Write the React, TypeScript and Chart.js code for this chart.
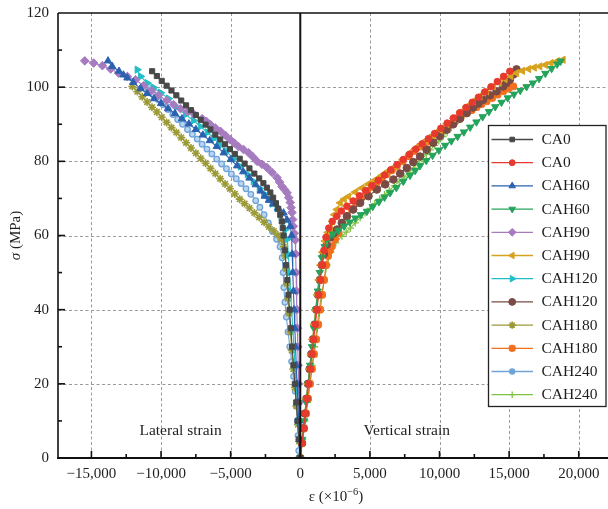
import React, { useEffect, useRef } from 'react';
import { Chart, registerables } from 'chart.js';
import { drawPoint } from 'chart.js/helpers';

Chart.register(...registerables);

// ---------- axis ranges and ticks ----------
const X_MIN = -17400;
const X_MAX = 22100;
const Y_MIN = 0;
const Y_MAX = 120;
const xMajorTicks = [-15000, -10000, -5000, 0, 5000, 10000, 15000, 20000];
const xMinorTicks = [-12500, -7500, -2500, 2500, 7500, 12500, 17500];
const yMajorTicks = [0, 20, 40, 60, 80, 100, 120];
const yMinorTicks = [10, 30, 50, 70, 90, 110];

const seriesNames = ['CA0', 'CA0', 'CAH60', 'CAH60', 'CAH90', 'CAH90', 'CAH120', 'CAH120', 'CAH180', 'CAH180', 'CAH240', 'CAH240'];

// ---------- data: [strain (x10^-6), stress (MPa)] ----------
const ca0Lateral: [number, number][] = [[-10640,104.3],[-10300,103.0],[-9950,101.7],[-9600,100.4],[-9250,99.1],[-8900,97.8],[-8550,96.4],[-8200,95.1],[-7850,93.8],[-7500,92.5],[-7150,91.2],[-6800,89.9],[-6450,88.6],[-6100,87.2],[-5750,85.9],[-5400,84.6],[-5050,83.3],[-4700,82.0],[-4350,80.7],[-4000,79.4],[-3650,78.1],[-3300,76.7],[-2950,75.4],[-2650,74.1],[-2400,72.9],[-2150,71.6],[-1950,70.2],[-1750,68.7],[-1580,67.2],[-1440,65.6],[-1330,63.8],[-1260,62.0],[-1200,60.0],[-1110,56],[-1020,52],[-930,48],[-850,44],[-770,40],[-680,35],[-590,30],[-490,25],[-390,20],[-290,15],[-190,10],[-100,5],[0,0]];

const ca0Vertical: [number, number][] = [[0,0],[120,4],[240,8],[360,12],[480,16],[600,20],[720,24],[840,28],[960,32],[1080,36],[1200,40],[1320,44],[1440,48],[1560,52],[1700,56],[1850,59.5],[2050,62],[2300,63.8],[2630,65.2],[2950,66.6],[3350,67.9],[3800,69.3],[4250,70.7],[4700,72.1],[5150,73.5],[5600,74.9],[6050,76.3],[6500,77.7],[6950,79.1],[7400,80.5],[7850,81.9],[8300,83.3],[8750,84.7],[9200,86.1],[9650,87.5],[10100,88.9],[10550,90.3],[11000,91.7],[11450,93.1],[11900,94.5],[12350,95.9],[12800,97.3],[13250,98.7],[13700,100.1],[14150,101.5],[14600,102.9],[15050,104.3]];

const cah60Lateral: [number, number][] = [[-13810,107.1],[-13500,105.6],[-13020,104.3],[-12700,103.3],[-12420,102.5],[-12000,101.3],[-11470,99.6],[-11000,98.3],[-10500,96.9],[-10000,95.6],[-9500,94.2],[-9000,92.9],[-8500,91.5],[-8000,90.1],[-7500,88.6],[-7000,87.1],[-6500,85.6],[-6000,84.0],[-5500,82.3],[-5000,80.5],[-4540,78.8],[-4100,77.2],[-3650,75.5],[-3200,73.7],[-2850,72.0],[-2550,70.6],[-2250,69.5],[-1950,68.5],[-1600,67.4],[-1200,66.1],[-950,64.2],[-720,62.5],[-620,60],[-580,55],[-540,50],[-490,45],[-440,40],[-390,35],[-340,30],[-290,25],[-230,20],[-170,15],[-110,10],[-60,5],[0,0]];

const cah60Vertical: [number, number][] = [[0,0],[140,5],[280,10],[420,15],[560,20],[700,25],[840,30],[980,35],[1120,40],[1260,45],[1400,50],[1550,54],[1750,57],[2000,59.3],[2350,60.4],[2750,61.4],[3150,62.5],[3550,63.6],[3950,64.7],[4350,65.6],[4780,66.5],[5200,67.8],[5650,69.1],[6050,70.3],[6450,71.5],[6900,72.9],[7400,74.6],[7880,76.2],[8250,77.5],[8600,78.8],[9050,80.2],[9500,81.6],[9950,83.0],[10400,84.3],[10850,85.5],[11300,86.7],[11750,87.9],[12200,89.2],[12650,90.6],[13100,92.0],[13550,93.4],[14000,94.7],[14450,95.9],[14900,97.1],[15350,98.1],[15800,99.1],[16250,100.1],[16700,101.1],[17150,102.3],[17600,103.7],[18050,105.0],[18450,106.2],[18700,107.0]];

const cah90Lateral: [number, number][] = [[-15480,107.1],[-14840,106.5],[-14210,105.8],[-13620,104.9],[-13050,103.8],[-12420,102.9],[-11830,102],[-11250,100.4],[-10680,99.1],[-10180,97.8],[-9600,96.4],[-9100,95.3],[-8600,94.2],[-8100,93.4],[-7600,92.6],[-7050,91.5],[-6750,90.8],[-6450,89.9],[-6100,89.0],[-5730,88.1],[-5380,87.0],[-5020,85.8],[-4730,84.9],[-4440,84],[-4080,83.2],[-3710,82.3],[-3400,81.2],[-3100,80],[-2750,79.2],[-2390,78.3],[-2030,77.0],[-1670,75.6],[-1490,74.4],[-1310,73.2],[-1130,72.4],[-950,71.5],[-830,70.2],[-720,68.9],[-660,67.5],[-600,66.2],[-550,64.3],[-500,62.5],[-430,60.6],[-360,58.8],[-330,55],[-300,50],[-270,45],[-240,40],[-210,35],[-180,30],[-150,25],[-120,20],[-90,15],[-60,10],[-30,5],[0,0]];

const cah90Vertical: [number, number][] = [[0,0],[110,4],[220,8],[330,12],[440,16],[550,20],[660,24],[770,28],[880,32],[990,36],[1100,40],[1210,44],[1330,48],[1460,52],[1600,55.5],[1780,58.5],[1980,60.8],[2150,62],[2300,63.8],[2450,65.6],[2630,67],[2870,68.8],[3150,69.8],[3460,70.5],[3950,71.7],[4420,72.8],[4900,73.9],[5380,75],[5850,76.2],[6330,77.4],[6810,78.6],[7350,80.4],[7880,82.3],[8450,83.9],[9000,85.5],[9520,87],[10040,88.5],[10520,90.1],[11000,91.6],[11480,93.2],[11950,94.8],[12420,96.2],[12900,97.5],[13380,98.9],[13860,100.2],[14280,101.2],[14700,102.2],[15120,103.0],[15530,103.8],[15950,104.4],[16400,104.9],[16800,105.3],[17200,105.6],[17600,106.0],[18000,106.5],[18450,107.0],[18870,107.4]];

const cah120Lateral: [number, number][] = [[-11710,104.7],[-11470,102.9],[-10990,101.1],[-10540,99.9],[-10030,98.5],[-9460,96.9],[-8890,94.6],[-8240,92.6],[-7670,91.0],[-7170,89.4],[-6670,87.8],[-6210,86.2],[-5730,84.4],[-5300,82.7],[-4800,80.7],[-4300,78.6],[-3800,76.5],[-3370,74.6],[-2940,72.7],[-2630,71.3],[-2290,69.9],[-2010,68.6],[-1670,67.3],[-1430,65.6],[-1220,63.7],[-1075,61.6],[-930,59],[-860,55],[-780,50],[-700,45],[-620,40],[-540,35],[-460,30],[-380,25],[-300,20],[-220,15],[-150,10],[-70,5],[0,0]];

const cah120Vertical: [number, number][] = [[0,0],[110,4],[220,8],[330,12],[440,16],[550,20],[670,24],[790,28],[910,32],[1030,36],[1150,40],[1270,44],[1400,48],[1540,52],[1700,55],[1900,57.5],[2150,59.5],[2400,60.6],[2630,61.6],[2980,63.4],[3350,65.2],[3800,67],[4300,68.8],[4900,70.6],[5500,72.4],[6100,73.8],[6690,75.1],[7170,76.7],[7650,78.2],[8120,79.8],[8600,81.3],[9070,83.1],[9550,85],[10030,86.8],[10510,88.5],[10990,90],[11470,91.5],[11950,93],[12400,94.5],[12800,95.6],[13140,96.6],[13620,97.8],[14100,98.9],[14570,100.2],[14800,101.1],[15050,102],[15300,103.4],[15530,104.8]];

const cah180Lateral: [number, number][] = [[-12060,100.2],[-11700,98.8],[-11350,97.4],[-11000,96.0],[-10650,94.6],[-10300,93.3],[-9950,91.9],[-9600,90.5],[-9250,89.1],[-8900,87.8],[-8550,86.4],[-8200,85.0],[-7850,83.6],[-7500,82.2],[-7150,80.8],[-6800,79.5],[-6450,78.1],[-6100,76.7],[-5750,75.3],[-5400,73.9],[-5050,72.6],[-4700,71.2],[-4350,69.8],[-4000,68.6],[-3650,67.4],[-3300,66.1],[-2950,64.9],[-2600,63.6],[-2250,62.3],[-1900,61.2],[-1600,60.1],[-1350,58.8],[-1180,57],[-1080,54.5],[-1010,51],[-950,47],[-880,43],[-800,39],[-710,34],[-610,29],[-500,24],[-390,19],[-280,14],[-170,9],[-80,4.5],[0,0]];

const cah180Vertical: [number, number][] = [[0,0],[140,4],[280,8],[420,12],[560,16],[700,20],[840,24],[990,28],[1140,32],[1290,36],[1430,40],[1570,44],[1710,48],[1850,52],[1990,54.5],[2130,56],[2270,57.1],[2500,59],[2750,60.7],[3050,63],[3350,65.2],[3700,67.1],[4060,68.8],[4400,70.3],[4800,71.9],[5150,73.1],[5500,74.3],[5850,75.4],[6200,76.5],[6570,77.6],[6930,78.6],[7350,80],[7780,81.4],[8200,82.8],[8600,84],[9020,85.1],[9440,86.3],[9850,87.4],[10270,88.5],[10700,89.7],[11100,90.8],[11520,91.9],[11950,93],[12300,93.8],[12650,94.6],[13000,95.4],[13380,96.2],[13780,97.1],[14170,98],[14570,98.9],[14930,99.6],[15290,100.2]];

const cah240Lateral: [number, number][] = [[-10900,99.3],[-10550,98.0],[-10200,96.6],[-9850,95.3],[-9500,94.0],[-9150,92.6],[-8800,91.3],[-8450,90.0],[-8100,88.6],[-7750,87.3],[-7400,86.0],[-7050,84.6],[-6700,83.3],[-6350,82.0],[-6000,80.6],[-5650,79.3],[-5300,78.0],[-4950,76.6],[-4600,75.3],[-4250,74.0],[-3900,72.6],[-3550,71.1],[-3200,69.4],[-2900,67.6],[-2600,65.6],[-2300,63.4],[-2000,61.1],[-1700,59],[-1450,57],[-1300,54],[-1230,50],[-1180,46],[-1100,42],[-1000,38],[-880,34],[-750,30],[-620,26],[-480,22],[-360,18],[-280,14],[-220,10],[-160,6],[-110,2],[-100,0]];

const cah240Vertical: [number, number][] = [[0,0],[170,5],[340,10],[510,15],[680,20],[850,25],[1020,30],[1190,35],[1360,40],[1530,44],[1720,48],[1930,52],[2200,55.5],[2550,58],[2990,59.8],[3300,60.9],[3600,62],[3950,63.4],[4300,64.8],[4650,66.1],[5000,67.3],[5350,68.6],[5700,69.8],[6050,71],[6400,72.2],[6750,73.4],[7100,74.6],[7450,75.8],[7800,77],[8120,78.2],[8450,79.5],[8750,80.7],[9050,81.9],[9350,83.1],[9650,84.3],[9950,85.5],[10250,86.7],[10550,87.9],[10850,89.1],[11150,90.3],[11450,91.5],[11750,92.7],[12050,93.9],[12350,95.1],[12650,96.3],[12950,97.6],[13260,98.9]];

const seriesData = [ca0Lateral, ca0Vertical, cah60Lateral, cah60Vertical, cah90Lateral, cah90Vertical, cah120Lateral, cah120Vertical, cah180Lateral, cah180Vertical, cah240Lateral, cah240Vertical];

// ---------- styles ----------
type St = { color: string; fill?: string; pointStyle: string; radius: number; rotation?: number; bw: number };
const seriesStyles: St[] = [
  { color: '#484848', pointStyle: 'rect', radius: 3.6, bw: 1 },
  { color: '#e8392f', pointStyle: 'circle', radius: 3.3, bw: 1 },
  { color: '#2b62b0', pointStyle: 'triangle', radius: 4.2, bw: 1 },
  { color: '#24a35b', pointStyle: 'triangle', rotation: 180, radius: 4.2, bw: 1 },
  { color: '#a67bc0', pointStyle: 'rectRot', radius: 4.3, bw: 1 },
  { color: '#d6a21f', pointStyle: 'triangle', rotation: 270, radius: 4.2, bw: 1 },
  { color: '#22bec6', pointStyle: 'triangle', rotation: 90, radius: 4.2, bw: 1 },
  { color: '#7a4a45', pointStyle: 'circle', radius: 3.8, bw: 1 },
  { color: '#9b9a37', pointStyle: 'star', radius: 4, bw: 1.6 },
  { color: '#f26f1e', pointStyle: 'rectRounded', radius: 3.9, bw: 1 },
  { color: '#6fa4d9', fill: '#bcd5ef', pointStyle: 'circle', radius: 2.8, bw: 1.3 },
  { color: '#7fc343', pointStyle: 'cross', radius: 3.6, bw: 1.3 },
];

const FONT = '"Liberation Serif", "Times New Roman", serif';
const TEXT = '#1e1e1e';
const lateralLabel = { x: -8600, y: 7.2, text: 'Lateral strain' };
const verticalLabel = { x: 7650, y: 7.2, text: 'Vertical strain' };

const fmt = (v: number) => (v < 0 ? '\u2212' : '') + String(Math.abs(v)).replace(/\B(?=(\d{3})+(?!\d))/g, ',');

const decor = {
  id: 'decor',
  beforeDatasetsDraw(chart: any) {
    const { ctx, chartArea: a, scales } = chart;
    const xs = scales.x, ys = scales.y;
    ctx.save();
    ctx.strokeStyle = '#9a9a9a';
    ctx.lineWidth = 1;
    ctx.setLineDash([3, 2.5]);
    for (const v of xMajorTicks) {
      if (v === 0) continue;
      const px = Math.round(xs.getPixelForValue(v)) + 0.5;
      ctx.beginPath(); ctx.moveTo(px, a.top); ctx.lineTo(px, a.bottom); ctx.stroke();
    }
    for (const v of yMajorTicks) {
      if (v === Y_MIN || v === Y_MAX) continue;
      const py = Math.round(ys.getPixelForValue(v)) + 0.5;
      ctx.beginPath(); ctx.moveTo(a.left, py); ctx.lineTo(a.right, py); ctx.stroke();
    }
    ctx.restore();
  },
  afterDatasetsDraw(chart: any) {
    const { ctx, chartArea: a, scales } = chart;
    const xs = scales.x, ys = scales.y;
    ctx.save();
    ctx.strokeStyle = '#111';
    const x0 = xs.getPixelForValue(0);
    ctx.lineWidth = 2;
    ctx.beginPath(); ctx.moveTo(x0, a.top); ctx.lineTo(x0, a.bottom); ctx.stroke();
    ctx.lineWidth = 1.6;
    ctx.beginPath(); ctx.moveTo(a.left, a.top); ctx.lineTo(a.left, a.bottom); ctx.stroke();
    ctx.beginPath(); ctx.moveTo(a.left, a.top); ctx.lineTo(a.right, a.top); ctx.stroke();
    ctx.lineWidth = 2;
    ctx.beginPath(); ctx.moveTo(a.left - 1, a.bottom); ctx.lineTo(a.right, a.bottom); ctx.stroke();
    ctx.lineWidth = 1.6;
    for (const v of xMajorTicks) {
      if (v === 0) continue;
      const px = xs.getPixelForValue(v);
      ctx.beginPath(); ctx.moveTo(px, a.bottom); ctx.lineTo(px, a.bottom - 7); ctx.stroke();
    }
    for (const v of xMinorTicks) {
      const px = xs.getPixelForValue(v);
      ctx.beginPath(); ctx.moveTo(px, a.bottom); ctx.lineTo(px, a.bottom - 4); ctx.stroke();
    }
    for (const v of yMajorTicks) {
      if (v === Y_MIN || v === Y_MAX) continue;
      const py = ys.getPixelForValue(v);
      ctx.beginPath(); ctx.moveTo(a.left, py); ctx.lineTo(a.left + 7, py); ctx.stroke();
    }
    for (const v of yMinorTicks) {
      const py = ys.getPixelForValue(v);
      ctx.beginPath(); ctx.moveTo(a.left, py); ctx.lineTo(a.left + 4, py); ctx.stroke();
    }
    ctx.fillStyle = TEXT;
    ctx.font = `15.5px ${FONT}`;
    ctx.textAlign = 'center';
    ctx.textBaseline = 'middle';
    for (const l of [lateralLabel, verticalLabel]) {
      ctx.fillText(l.text, xs.getPixelForValue(l.x), ys.getPixelForValue(l.y));
    }
    ctx.restore();
  },
  afterDraw(chart: any) {
    const { ctx, chartArea: a } = chart;
    ctx.save();
    ctx.fillStyle = TEXT;
    ctx.textBaseline = 'middle';
    ctx.textAlign = 'left';
    ctx.save();
    ctx.translate(16, (a.top + a.bottom) / 2);
    ctx.rotate(-Math.PI / 2);
    ctx.font = `italic 15px ${FONT}`;
    const w1 = ctx.measureText('\u03C3').width;
    ctx.font = `15px ${FONT}`;
    const w2 = ctx.measureText(' (MPa)').width;
    const sx = -(w1 + w2) / 2;
    ctx.font = `italic 15px ${FONT}`;
    ctx.fillText('\u03C3', sx, 0);
    ctx.font = `15px ${FONT}`;
    ctx.fillText(' (MPa)', sx + w1, 0);
    ctx.restore();
    const parts = [
      { t: '\u03B5 (\u00D710', f: `15px ${FONT}`, dy: 0 },
      { t: '\u22126', f: `10.5px ${FONT}`, dy: -5 },
      { t: ')', f: `15px ${FONT}`, dy: 0 },
    ];
    let total = 0;
    for (const p of parts) { ctx.font = p.f; total += ctx.measureText(p.t).width; }
    let cx = 336 - total / 2;
    for (const p of parts) {
      ctx.font = p.f;
      ctx.fillText(p.t, cx, 497 + p.dy);
      cx += ctx.measureText(p.t).width;
    }
    const L = { x: 488.5, y: 125.5, w: 117.5, h: 281, row: 23.2, first: 14, lx0: 491.5, lx1: 533, mx: 512.2, tx: 541.5 };
    ctx.fillStyle = '#fff';
    ctx.fillRect(L.x, L.y, L.w, L.h);
    ctx.strokeStyle = '#222';
    ctx.lineWidth = 1.3;
    ctx.strokeRect(L.x, L.y, L.w, L.h);
    seriesNames.forEach((name, i) => {
      const st = seriesStyles[i];
      const cy = L.y + L.first + i * L.row;
      ctx.strokeStyle = st.color;
      ctx.lineWidth = 1.3;
      ctx.beginPath(); ctx.moveTo(L.lx0, cy); ctx.lineTo(L.lx1, cy); ctx.stroke();
      ctx.fillStyle = st.color;
      ctx.lineWidth = st.bw;
      drawPoint(ctx, { pointStyle: st.pointStyle as any, rotation: st.rotation || 0, radius: st.radius * 0.9, borderWidth: st.bw }, L.mx, cy);
      ctx.fillStyle = TEXT;
      ctx.font = `15.5px ${FONT}`;
      ctx.textAlign = 'left';
      ctx.textBaseline = 'middle';
      ctx.fillText(name, L.tx, cy + 0.5);
    });
    ctx.restore();
  },
};

export default function App() {
  const ref = useRef<HTMLCanvasElement | null>(null);
  useEffect(() => {
    if (!ref.current) return;
    const datasets = seriesData.map((d, i) => {
      const st = seriesStyles[i];
      return {
        label: seriesNames[i],
        data: d.map(([x, y]) => ({ x, y })),
        showLine: true,
        borderColor: st.color,
        backgroundColor: st.fill || st.color,
        borderWidth: 1.1,
        pointStyle: st.pointStyle as any,
        pointRotation: st.rotation || 0,
        pointRadius: st.radius,
        pointBorderWidth: st.bw,
        pointBorderColor: st.color,
        pointBackgroundColor: st.fill || st.color,
        tension: 0,
      };
    });
    const chart = new Chart(ref.current, {
      type: 'scatter',
      data: { datasets },
      options: {
        responsive: false,
        animation: false,
        devicePixelRatio: 1,
        layout: { autoPadding: false, padding: { top: 13, left: 0, right: 0, bottom: 0 } },
        plugins: { legend: { display: false }, tooltip: { enabled: false } },
        scales: {
          x: {
            type: 'linear',
            min: X_MIN,
            max: X_MAX,
            afterBuildTicks: (s: any) => { s.ticks = xMajorTicks.map((v) => ({ value: v })); },
            afterFit: (s: any) => { s.height = 51; s.paddingLeft = 0; s.paddingRight = 0; s.paddingTop = 0; s.paddingBottom = 0; },
            grid: { display: false, drawTicks: false },
            border: { display: false },
            ticks: { font: { family: FONT, size: 15 }, color: TEXT, padding: 7, maxRotation: 0, autoSkip: false, callback: (v: any) => fmt(Number(v)) },
          },
          y: {
            type: 'linear',
            min: Y_MIN,
            max: Y_MAX,
            afterBuildTicks: (s: any) => { s.ticks = yMajorTicks.map((v) => ({ value: v })); },
            afterFit: (s: any) => { s.width = 58; s.paddingLeft = 0; s.paddingRight = 0; s.paddingTop = 0; s.paddingBottom = 0; },
            grid: { display: false, drawTicks: false },
            border: { display: false },
            ticks: { font: { family: FONT, size: 15 }, color: TEXT, padding: 9, callback: (v: any) => String(v) },
          },
        },
      },
      plugins: [decor],
    });
    return () => chart.destroy();
  }, []);
  return (
    <div style={{ position: 'absolute', left: 0, top: 0, width: 608, height: 509, background: '#fff' }}>
      <canvas ref={ref} width={608} height={509} style={{ display: 'block' }} />
    </div>
  );
}
